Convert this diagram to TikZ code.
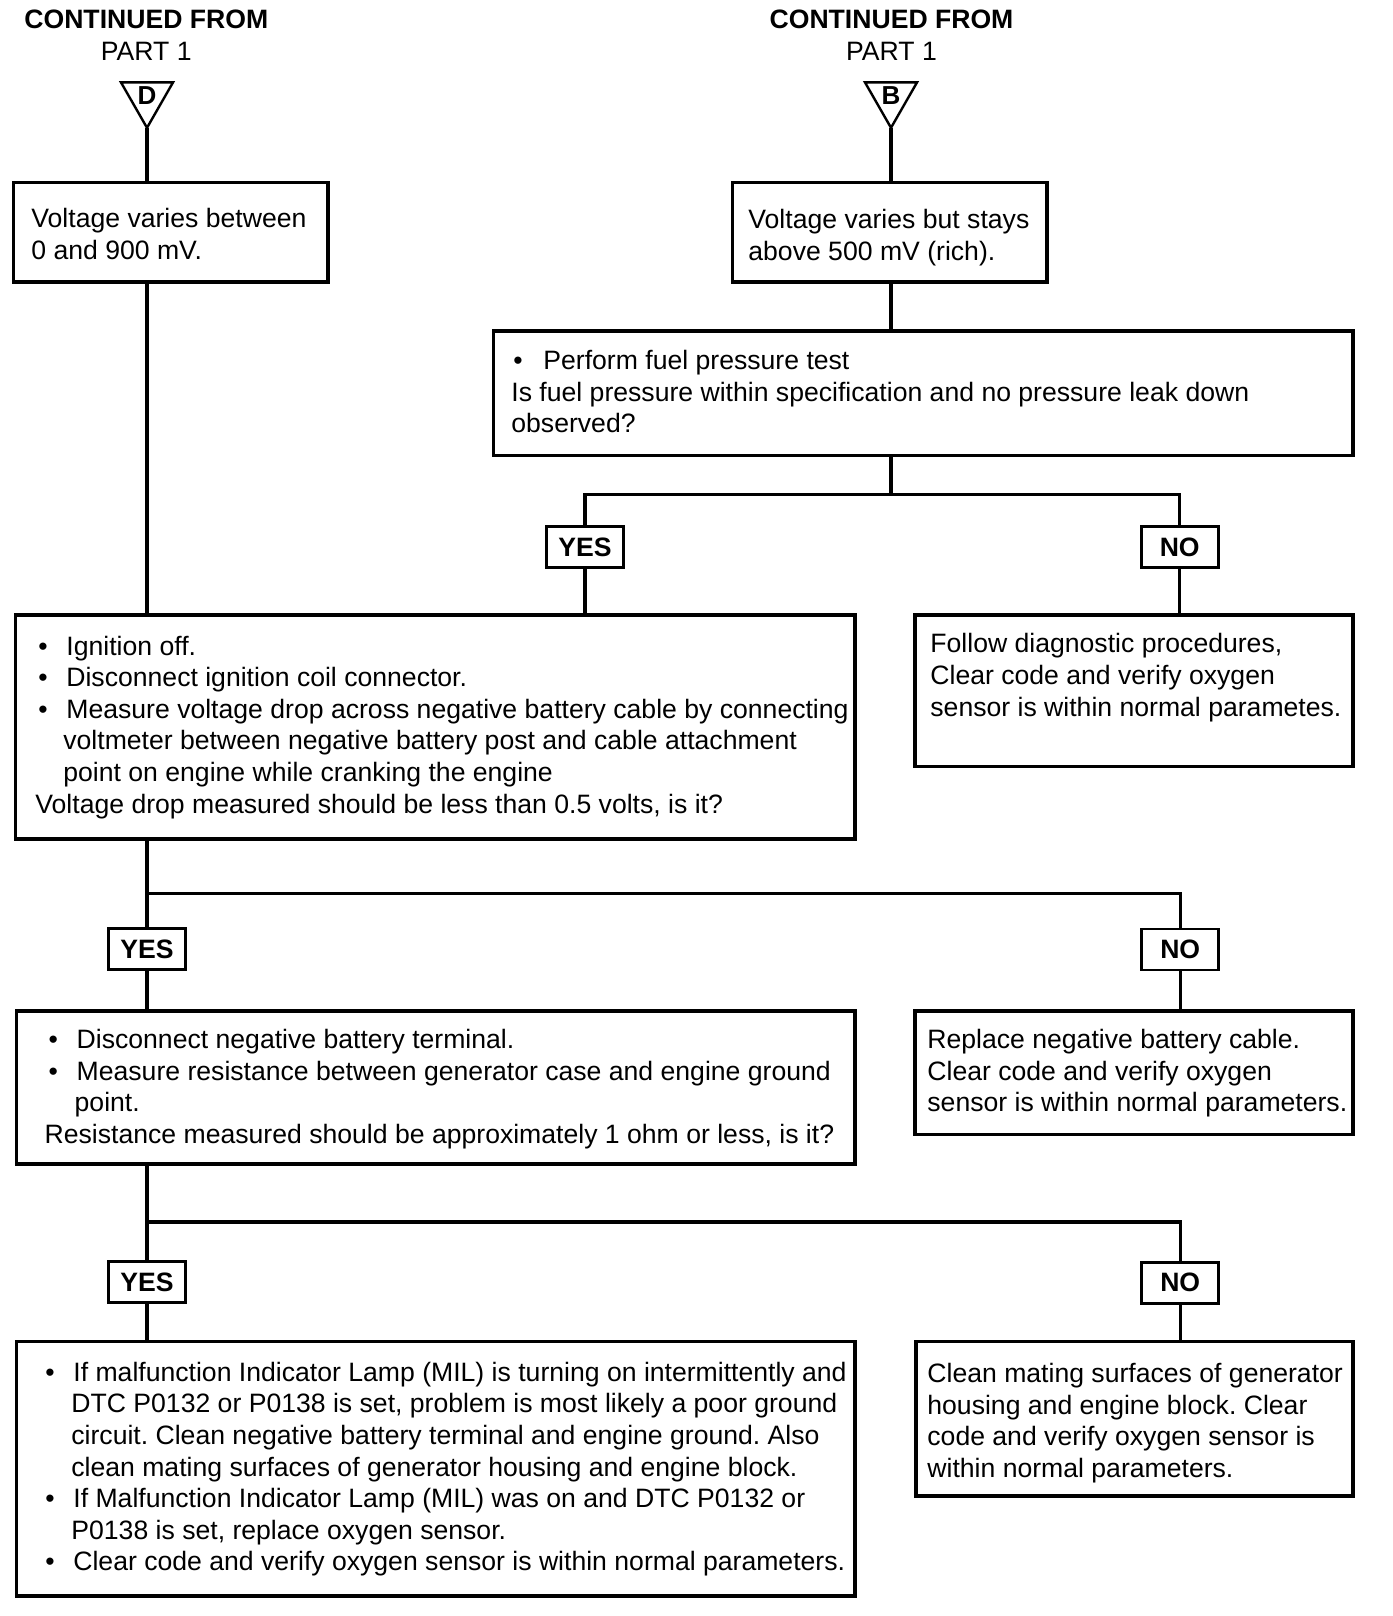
\documentclass[tikz,border=0pt]{standalone}
\usepackage{fontspec}
\setmainfont{Liberation Sans}
\usetikzlibrary{fit}
\frenchspacing
\newcommand{\bitem}[2]{\hspace*{#1}\makebox[#2][l]{•}}
\tikzset{
  box/.style={draw, line width=1.9pt, inner sep=0pt},
  lab/.style={draw, line width=1.3pt, minimum width=38.5pt, minimum height=20.5pt, inner sep=0pt, font=\bfseries\fontsize{13.3}{15}\selectfont},
  conn/.style={line width=1.6pt},
  tri/.style={line width=1.2pt, line join=miter},
  txt/.style={anchor=base west, inner sep=0pt, font=\fontsize{13.3}{15.8}\selectfont},
  head/.style={anchor=base, inner sep=0pt, font=\fontsize{13.3}{15.8}\selectfont}
}
\begin{document}
\frenchspacing
\begin{tikzpicture}[x=0.5pt,y=-0.5pt]
\useasboundingbox (0,0) rectangle (1392,1616);
\fill[white] (0,0) rectangle (1392,1616);

% headings
\node[head] (h1a) at (146.3,28.5) {\bfseries CONTINUED FROM};
\node[head] (h1b) at (146.3,60.5) {PART 1};
\node[head] (h2a) at (891.5,28.5) {\bfseries CONTINUED FROM};
\node[head] (h2b) at (891.5,60.5) {PART 1};

% off-page triangles
\coordinate (tD) at (147,127.8);
\coordinate (tB) at (891,127.8);
\draw[tri] (121,82.4) -- (173,82.4) -- (tD) -- cycle;
\draw[tri] (865,82.4) -- (917,82.4) -- (tB) -- cycle;
\node[inner sep=0pt, font=\bfseries\fontsize{13}{15}\selectfont] (lD) at (147,95.5) {D};
\node[inner sep=0pt, font=\bfseries\fontsize{13}{15}\selectfont] (lB) at (891,95.5) {B};

% boxes
\node[box, fit={(13.4,182.4) (327.6,282.3)}] (b1) {};
\node[box, fit={(732.5,182.4) (1046.8,282.3)}] (b2) {};
\node[box, fit={(493.5,330.7) (1352.8,455.4)}] (b3) {};
\node[box, fit={(15.5,615.1) (855.1,838.7)}] (b4) {};
\node[box, fit={(914.9,615.1) (1352.8,766.5)}] (b5) {};
\node[box, fit={(16.5,1010.7) (855.1,1164.2)}] (b6) {};
\node[box, fit={(914.9,1010.7) (1352.8,1134.4)}] (b7) {};
\node[box, fit={(16.5,1341.5) (855.1,1595.9)}] (b8) {};
\node[box, fit={(915.9,1341.5) (1352.8,1496)}] (b9) {};

% texts
\node[txt] (t1) at (31,227.4) {\parbox[t]{150pt}{Voltage varies between\\0 and 900 mV.}};
\node[txt] (t2) at (748,228.4) {\parbox[t]{150pt}{Voltage varies but stays\\above 500 mV (rich).}};
\node[txt] (t3) at (511,369.6) {\parbox[t]{420pt}{\bitem{1pt}{15pt}Perform fuel pressure test\\Is fuel pressure within specification and no pressure leak down\\observed?}};
\node[txt] (t4) at (35,655) {\parbox[t]{420pt}{\bitem{1.5pt}{14pt}Ignition off.\\
\bitem{1.5pt}{14pt}Disconnect ignition coil connector.\\
\bitem{1.5pt}{14pt}Measure voltage drop across negative battery cable by connecting\\
\hspace*{14pt}voltmeter between negative battery post and cable attachment\\
\hspace*{14pt}point on engine while cranking the engine\\
Voltage drop measured should be less than 0.5 volts, is it?}};
\node[txt] (t5) at (930,652.9) {\parbox[t]{220pt}{Follow diagnostic procedures,\\Clear code and verify oxygen\\sensor is within normal parametes.}};
\node[txt] (t6) at (44.3,1048.5) {\parbox[t]{420pt}{\bitem{2pt}{14pt}Disconnect negative battery terminal.\\
\bitem{2pt}{14pt}Measure resistance between generator case and engine ground\\
\hspace*{15pt}point.\\
Resistance measured should be approximately 1 ohm or less, is it?}};
\node[txt] (t7) at (927,1048.5) {\parbox[t]{220pt}{Replace negative battery cable.\\Clear code and verify oxygen\\sensor is within normal parameters.}};
\node[txt] (t8) at (45,1381.3) {\parbox[t]{420pt}{\bitem{0pt}{14pt}If malfunction Indicator Lamp (MIL) is turning on intermittently and\\
\hspace*{13pt}DTC P0132 or P0138 is set, problem is most likely a poor ground\\
\hspace*{13pt}circuit. Clean negative battery terminal and engine ground. Also\\
\hspace*{13pt}clean mating surfaces of generator housing and engine block.\\
\bitem{0pt}{14pt}If Malfunction Indicator Lamp (MIL) was on and DTC P0132 or\\
\hspace*{13pt}P0138 is set, replace oxygen sensor.\\
\bitem{0pt}{14pt}Clear code and verify oxygen sensor is within normal parameters.}};
\node[txt] (t9) at (927,1382.4) {\parbox[t]{220pt}{Clean mating surfaces of generator\\housing and engine block. Clear\\code and verify oxygen sensor is\\within normal parameters.}};

% YES / NO labels
\node[lab] (y1) at (585,547.1) {YES};
\node[lab] (n1) at (1179.7,547.1) {NO};
\node[lab] (y2) at (147,949) {YES};
\node[lab] (n2) at (1180.2,949.5) {NO};
\node[lab] (y3) at (147,1282.2) {YES};
\node[lab] (n3) at (1180.2,1282.7) {NO};

% junction points
\coordinate (j1) at (891,494.5);
\coordinate (j2) at (147,893.3);
\coordinate (j3) at (147,1221.9);

% connectors
\draw[conn] (tD) -- (tD |- b1.north);
\draw[conn] (tB) -- (tB |- b2.north);
\draw[conn] (b1.south -| tD) -- (b4.north -| tD);
\draw[conn] (b2.south -| tB) -- (b3.north -| tB);
\draw[conn] (b3.south -| j1) -- (j1);
\draw[conn] (y1.north) -- (y1.north |- j1) -- (n1.north |- j1) -- (n1.north);
\draw[conn] (y1.south) -- (y1.south |- b4.north);
\draw[conn] (n1.south) -- (n1.south |- b5.north);
\draw[conn] (b4.south -| j2) -- (y2.north);
\draw[conn] (j2) -- (n2.north |- j2) -- (n2.north);
\draw[conn] (y2.south) -- (y2.south |- b6.north);
\draw[conn] (n2.south) -- (n2.south |- b7.north);
\draw[conn] (b6.south -| j3) -- (y3.north);
\draw[conn] (j3) -- (n3.north |- j3) -- (n3.north);
\draw[conn] (y3.south) -- (y3.south |- b8.north);
\draw[conn] (n3.south) -- (n3.south |- b9.north);
\end{tikzpicture}
\end{document}
